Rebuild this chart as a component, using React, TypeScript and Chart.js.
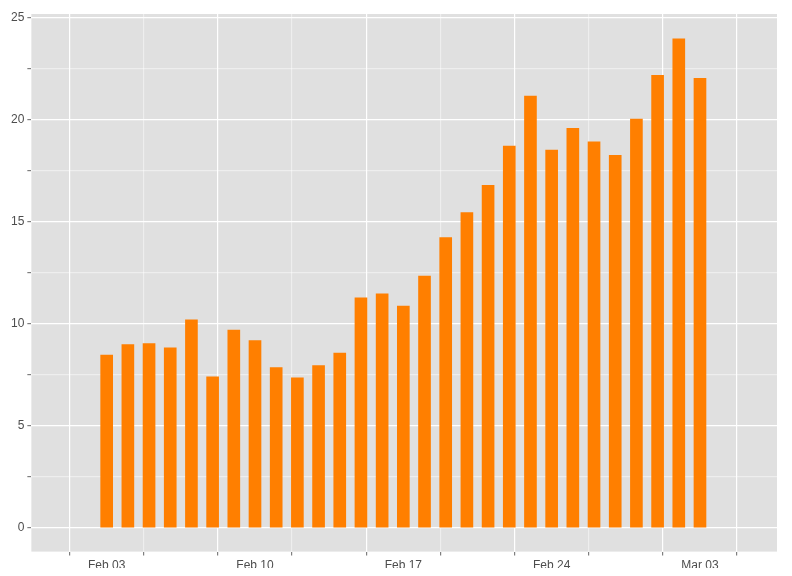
import React, { useEffect, useRef } from "react";
import { Chart, registerables } from "chart.js";

Chart.register(...registerables);

const days = [
  "Feb 03", "Feb 04", "Feb 05", "Feb 06", "Feb 07", "Feb 08", "Feb 09",
  "Feb 10", "Feb 11", "Feb 12", "Feb 13", "Feb 14", "Feb 15", "Feb 16",
  "Feb 17", "Feb 18", "Feb 19", "Feb 20", "Feb 21", "Feb 22", "Feb 23",
  "Feb 24", "Feb 25", "Feb 26", "Feb 27", "Feb 28", "Mar 01", "Mar 02",
  "Mar 03",
];
const values = [
  8.47, 8.98, 9.03, 8.83, 10.2, 7.4, 9.69, 9.18, 7.86, 7.35, 7.96, 8.57,
  11.28, 11.48, 10.87, 12.35, 14.23, 15.46, 16.79, 18.72, 21.17, 18.52,
  19.59, 18.93, 18.27, 20.05, 22.19, 23.98, 22.04,
];
const xTicks = [0, 3.5, 7, 10.5, 14, 17.5, 21, 24.5, 28];
const yTicks = [0, 2.5, 5, 7.5, 10, 12.5, 15, 17.5, 20, 22.5, 25];

const panelBg = {
  id: "panelBg",
  beforeDraw(chart: any) {
    const { ctx, chartArea: a } = chart;
    ctx.save();
    ctx.fillStyle = "#e0e0e0";
    ctx.fillRect(a.left, a.top, a.right - a.left, a.bottom - a.top);
    ctx.restore();
  },
};

const isMajor = (v: number) => Number.isInteger(v / 5) || Number.isInteger(v / 7);
const gridColor = (c: any) =>
  !c || !c.tick || isMajor(c.tick.value) ? "#ffffff" : "rgba(255,255,255,0.45)";

export default function App() {
  const canvasRef = useRef<HTMLCanvasElement | null>(null);

  useEffect(() => {
    if (!canvasRef.current) return;
    const chart = new Chart(canvasRef.current, {
      type: "bar",
      data: {
        datasets: [
          {
            data: values.map((v, i) => ({ x: i, y: v })),
            backgroundColor: "#ff7f00",
            barThickness: 12,
          },
        ],
      },
      options: {
        animation: false,
        responsive: false,
        layout: { padding: { top: 14, right: 15, left: 8 } },
        plugins: { legend: { display: false }, tooltip: { enabled: false } },
        scales: {
          x: {
            type: "linear",
            min: -1.6,
            max: 29.68,
            afterBuildTicks: (s: any) => {
              s.ticks = xTicks.map((v) => ({ value: v }));
            },
            ticks: {
              autoSkip: false,
              maxRotation: 0,
              color: "#4d4d4d",
              font: { family: "Liberation Sans", size: 12 },
              callback: (v: any) => (Number.isInteger(v / 7) ? days[v] : ""),
            },
            grid: { color: gridColor, lineWidth: 1.2, tickLength: 4, tickColor: "#7f7f7f" },
            border: { display: false },
          },
          y: {
            min: -1.17,
            max: 25.2,
            afterBuildTicks: (s: any) => {
              s.ticks = yTicks.map((v) => ({ value: v }));
            },
            ticks: {
              color: "#4d4d4d",
              font: { family: "Liberation Sans", size: 12 },
              callback: (v: any) => (Number.isInteger(v / 5) ? String(v) : ""),
            },
            grid: { color: gridColor, lineWidth: 1.2, tickLength: 4, tickColor: "#7f7f7f" },
            border: { display: false },
          },
        },
      },
      plugins: [panelBg],
    });
    return () => chart.destroy();
  }, []);

  return (
    <div style={{ margin: -8 }}>
      <canvas ref={canvasRef} width={792} height={576} />
    </div>
  );
}
